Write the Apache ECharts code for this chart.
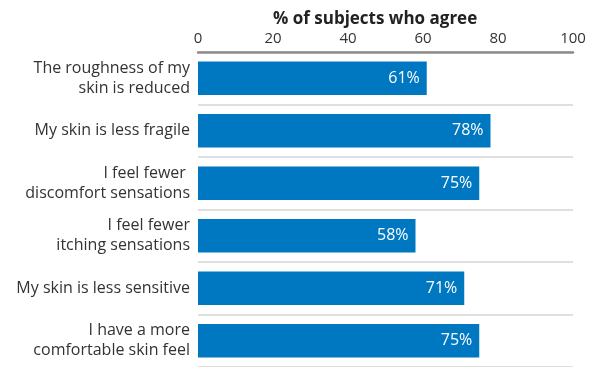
<!DOCTYPE html>
<html>
<head>
<meta charset="utf-8">
<script src="https://cdn.jsdelivr.net/npm/echarts@6/dist/echarts.min.js"></script>
<style>
  html, body { margin: 0; padding: 0; background: #fff; }
  #chart { width: 590px; height: 367px; }
</style>
</head>
<body>
<div id="chart"></div>
<script>
// Statements shown top to bottom
const categories = [
  'The roughness of my\nskin is reduced',
  'My skin is less fragile',
  'I feel fewer \ndiscomfort sensations',
  'I feel fewer\nitching sensations',
  'My skin is less sensitive',
  'I have a more\ncomfortable skin feel'
];
// Share of subjects agreeing, in percent
const agreePct = [61, 78, 75, 58, 71, 75];
const axisTicks = [0, 20, 40, 60, 80, 100];
const axisTitle = '% of subjects who agree';

const FONT = '"Open Sans", "Noto Sans", sans-serif';
const chart = echarts.init(document.getElementById('chart'));

chart.setOption({
  animation: false,
  textStyle: { fontFamily: FONT },
  title: {
    text: axisTitle,
    left: 268,
    top: 6,
    textStyle: { fontFamily: FONT, fontSize: 17, fontWeight: 'bold', color: '#222' }
  },
  grid: { left: 198, right: 17, top: 52, height: 316, containLabel: false },
  xAxis: {
    type: 'value',
    position: 'top',
    min: axisTicks[0],
    max: axisTicks[axisTicks.length - 1],
    interval: axisTicks[1] - axisTicks[0],
    axisLine: { show: true, lineStyle: { color: '#8c8c8c', width: 2.5 } },
    axisTick: { show: false },
    splitLine: { show: false },
    axisLabel: { color: '#333', fontSize: 15, margin: 6, fontFamily: FONT }
  },
  yAxis: {
    type: 'category',
    inverse: true,
    data: categories,
    axisLine: { show: false },
    axisTick: { show: false },
    splitLine: { show: true, lineStyle: { color: '#d4d4d4', width: 1.5 } },
    axisLabel: {
      color: '#333', fontSize: 16, lineHeight: 20, margin: 8,
      align: 'right', fontFamily: FONT
    }
  },
  series: [{
    type: 'bar',
    data: agreePct,
    barWidth: '64%',
    itemStyle: { color: '#0077c1' },
    label: {
      show: true,
      position: 'insideRight',
      distance: 7,
      formatter: '{c}%',
      color: '#fff',
      fontSize: 16,
      fontFamily: FONT
    }
  }]
});
</script>
</body>
</html>
